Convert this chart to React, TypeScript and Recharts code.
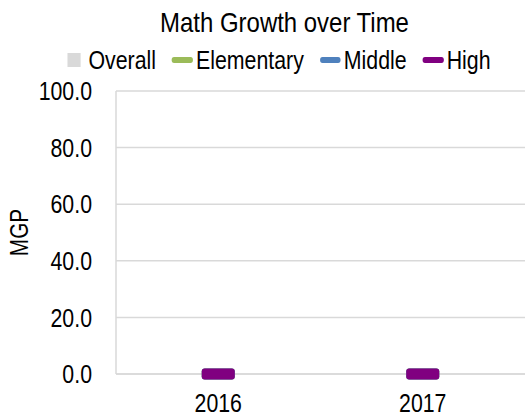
import React from 'react';
import { ComposedChart, Bar, Line, XAxis, YAxis, CartesianGrid } from 'recharts';

const years = ['2016', '2017'];
const overallValues = [0, 0];
const elementaryValues = [0, 0];
const middleValues = [0, 0];
const highValues = [0, 0];
const yTicks = [0, 20, 40, 60, 80, 100];
const seriesNames = ['Overall', 'Elementary', 'Middle', 'High'];
const seriesKeys = ['overall', 'elementary', 'middle', 'high'];
const seriesColors = ['#D9D9D9', '#9BBB59', '#4F81BD', '#800080'];

const data = years.map((year, i) => ({
  year,
  overall: overallValues[i],
  elementary: elementaryValues[i],
  middle: middleValues[i],
  high: highValues[i],
}));

const FONT = "'Liberation Sans Narrow', 'Arial Narrow', 'Liberation Sans', Arial, sans-serif";
const GRID = '#D9D9D9';
const SX = 0.82;

const DashDot = (props: any) => {
  const { cx, cy, color } = props;
  if (cx == null || cy == null) return null;
  return <rect x={cx - 16.5} y={cy - 5.5} width={33} height={11} rx={3} ry={3} fill={color} />;
};

const YTick = (props: any) => {
  const { x, y, payload, tickFormatter } = props;
  const label = tickFormatter ? tickFormatter(payload.value) : String(payload.value);
  return (
    <text
      transform={`translate(${x}, ${y}) scale(${SX}, 1)`}
      textAnchor="end"
      dy="0.355em"
      fill="#000"
      fontSize={26}
      fontFamily={FONT}
    >
      {label}
    </text>
  );
};

const XTick = (props: any) => {
  const { x, y, payload } = props;
  return (
    <text
      transform={`translate(${x}, ${y}) scale(${SX}, 1)`}
      textAnchor="middle"
      dy="0.71em"
      fill="#000"
      fontSize={26}
      fontFamily={FONT}
    >
      {payload.value}
    </text>
  );
};

const YLabel = (props: any) => {
  const vb = props.viewBox || { x: 0, y: 91, height: 283 };
  return (
    <text
      transform={`translate(${vb.x + 28}, ${vb.y + vb.height / 2}) rotate(-90) scale(0.8, 1)`}
      textAnchor="middle"
      fill="#000"
      fontSize={26}
      fontFamily={FONT}
    >
      MGP
    </text>
  );
};

export default function App() {
  return (
    <div style={{ position: 'absolute', left: 0, top: 0, width: 525, height: 417, background: '#fff', fontFamily: FONT, overflow: 'hidden' }}>
      <div
        style={{
          position: 'absolute',
          top: 9,
          left: 0,
          width: 525,
          textAlign: 'center',
          fontSize: 28,
          lineHeight: '28px',
          color: '#000',
          whiteSpace: 'nowrap',
          transform: 'translateX(22px) scaleX(0.855)',
          transformOrigin: '262.5px 50%',
        }}
      >
        Math Growth over Time
      </div>
      <div
        style={{
          position: 'absolute',
          top: 47,
          left: 0,
          width: 525,
          display: 'flex',
          justifyContent: 'center',
          alignItems: 'center',
          fontSize: 26,
          lineHeight: '26px',
          color: '#000',
          whiteSpace: 'nowrap',
          transform: `translateX(14.5px) scaleX(${SX})`,
          transformOrigin: '262.5px 50%',
        }}
      >
        {seriesNames.map((name, i) => (
          <div key={name} style={{ display: 'flex', alignItems: 'center', marginRight: i < seriesNames.length - 1 ? 19.5 : 0 }}>
            <div style={{ width: 25.6, height: 14, display: 'flex', alignItems: 'center', justifyContent: 'center', marginRight: i === 0 ? 4.9 : 3.7 }}>
              {i === 0 ? (
                <div style={{ width: 16.5, height: 14, background: seriesColors[i] }} />
              ) : (
                <div style={{ width: 25.6, height: 6, borderRadius: 3, background: seriesColors[i] }} />
              )}
            </div>
            <span>{name}</span>
          </div>
        ))}
      </div>
      <ComposedChart width={525} height={417} data={data} margin={{ top: 91, right: 0, bottom: 0, left: 0 }}>
        <CartesianGrid vertical={false} stroke={GRID} strokeWidth={1.5} />
        <XAxis
          dataKey="year"
          height={43}
          axisLine={{ stroke: GRID, strokeWidth: 1.5 }}
          tickLine={false}
          tickSize={0}
          tickMargin={20}
          tick={<XTick />}
        />
        <YAxis
          domain={[0, 100]}
          ticks={yTicks}
          interval={0}
          tickFormatter={(v: number) => v.toFixed(1)}
          width={116}
          axisLine={{ stroke: GRID, strokeWidth: 1.5 }}
          tickLine={false}
          tickSize={0}
          tickMargin={24}
          tick={<YTick />}
          label={<YLabel />}
        />
        <Bar dataKey={seriesKeys[0]} name={seriesNames[0]} fill={seriesColors[0]} isAnimationActive={false} />
        {[1, 2, 3].map((i) => (
          <Line
            key={seriesKeys[i]}
            type="linear"
            dataKey={seriesKeys[i]}
            name={seriesNames[i]}
            stroke="none"
            dot={<DashDot color={seriesColors[i]} />}
            activeDot={false}
            isAnimationActive={false}
          />
        ))}
      </ComposedChart>
    </div>
  );
}
